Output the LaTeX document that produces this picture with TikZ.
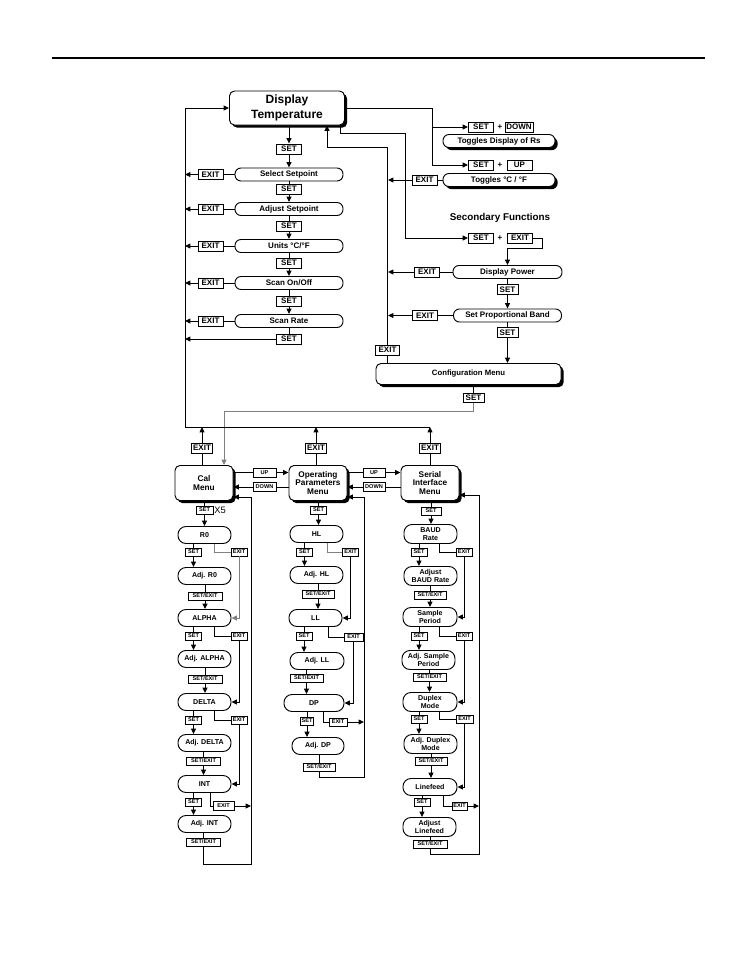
\documentclass[tikz,border=0pt]{standalone}
\usepackage{fontspec}
\setmainfont{Liberation Sans}
\usetikzlibrary{arrows.meta,shadows}
\newdimen\pxu \pxu=0.75pt

\begin{document}
\begin{tikzpicture}[x=0.75pt,y=-0.75pt,line width=0.7pt,
  >={Triangle[length=4pt,width=3.6pt]},
  key/.style={draw,fill=white,inner sep=0pt,minimum width=25\pxu,minimum height=10\pxu,font=\fontsize{6}{6}\selectfont\bfseries},
  tkey/.style={draw,fill=white,inner sep=0pt,minimum width=16\pxu,minimum height=8\pxu,font=\fontsize{4.2}{4.2}\selectfont\bfseries},
  stepbox/.style={draw,fill=white,rounded corners=6\pxu,minimum width=108\pxu,minimum height=13\pxu,inner sep=0pt,font=\fontsize{6}{6}\selectfont\bfseries},
  shadowbox/.style={draw,fill=white,rounded corners=5\pxu,drop shadow={shadow xshift=2pt,shadow yshift=-2pt,fill=black,opacity=1},inner sep=0pt,align=center},
  pill/.style={draw,fill=white,rounded corners=8\pxu,minimum width=53\pxu,minimum height=17\pxu,inner sep=0pt,align=center,font=\fontsize{5.3}{5.4}\selectfont\bfseries},
  menu/.style={shadowbox,minimum width=58\pxu,minimum height=35\pxu,font=\fontsize{6.2}{6.4}\selectfont\bfseries},
  plus/.style={inner sep=0pt,font=\fontsize{6}{6}\selectfont\bfseries}]
  \useasboundingbox (0,0) rectangle (756,972);
  \draw[line width=1pt] (52,58) -- (705,58);

  % main display
  \node[shadowbox,minimum width=115\pxu,minimum height=34\pxu,font=\fontsize{9}{11}\selectfont\bfseries] (dt) at (287,108) {Display\\Temperature};

  % primary functions
  \node[key] (s0) at (289,149) {SET};
  \node[stepbox] (sel) at (289,174.5) {Select Setpoint};
  \node[key] (s1) at (289,189) {SET};
  \node[stepbox] (adj) at (289,209) {Adjust Setpoint};
  \node[key] (s2) at (289,226) {SET};
  \node[stepbox] (uni) at (289,246) {Units °C/°F};
  \node[key] (s3) at (289,263) {SET};
  \node[stepbox] (scn) at (289,283) {Scan On/Off};
  \node[key] (s4) at (289,301) {SET};
  \node[stepbox] (rte) at (289,321) {Scan Rate};
  \node[key] (s5) at (289,339) {SET};
  \coordinate (busT) at (185,108);
  \coordinate (busB) at (185,427);
  \draw[->] (s0 |- dt.south) -- (s0.north);
  \draw[->] (s0) -- (sel);
  \draw (sel) -- (s1); \draw[->] (s1) -- (adj);
  \draw (adj) -- (s2); \draw[->] (s2) -- (uni);
  \draw (uni) -- (s3); \draw[->] (s3) -- (scn);
  \draw (scn) -- (s4); \draw[->] (s4) -- (rte);
  \draw (rte) -- (s5);
  \draw[->] (s5.west) -- (s5.west -| busB);
  \foreach \n/\b in {1/sel,2/adj,3/uni,4/scn,5/rte}{
    \node[key] (x\n) at (210.5,0 |- \b) {EXIT};
    \draw (\b.west) -- (x\n.east);
    \draw[->] (x\n.west) -- (x\n.west -| busB);
  }
  \draw[->] (busB) -- (busT) -- (dt.west);

  % toggles
  \coordinate (rv) at (432,108);
  \node[key] (s6) at (481,127) {SET};
  \node[plus] (p1) at (500,127) {+};
  \node[key,minimum width=28\pxu] (dn) at (519,127) {DOWN};
  \node[shadowbox,minimum width=112\pxu,minimum height=13\pxu,rounded corners=6\pxu,font=\fontsize{6}{6}\selectfont\bfseries] (tg1) at (499,141) {Toggles Display of Rs};
  \node[key] (s7) at (481,165) {SET};
  \node[plus] (p2) at (500,165) {+};
  \node[key] (up) at (519.5,165) {UP};
  \node[shadowbox,minimum width=112\pxu,minimum height=13\pxu,rounded corners=6\pxu,font=\fontsize{6}{6}\selectfont\bfseries] (tg2) at (499,180) {Toggles °C / °F};
  \draw[->] (dt.east) -| (rv |- s6) -- (s6.west);
  \draw[->] (rv |- s6) |- (s7.west);

  % secondary functions
  \node[font=\fontsize{7.4}{7.4}\selectfont\bfseries] (sf) at (500,218) {Secondary Functions};
  \coordinate (k1) at (340,133);
  \coordinate (k2) at (405,133);
  \node[key] (s8) at (481,238) {SET};
  \node[plus] (p3) at (500,238) {+};
  \node[key] (e8) at (520,238) {EXIT};
  \coordinate (t1) at (542,248);
  \draw[->] (k1 |- dt.south) -- (k1) -- (k2) |- (s8.west);
  \node[stepbox,minimum width=109\pxu] (dp) at (507.5,272) {Display Power};
  \draw[->] (e8.east) -| (t1) -| (dp.north);
  \node[key,minimum width=21\pxu] (s9) at (507.5,289.5) {SET};
  \node[stepbox] (spb) at (507.5,315.5) {Set Proportional Band};
  \node[key,minimum width=21\pxu] (s10) at (507.5,332.5) {SET};
  \node[shadowbox,minimum width=185\pxu,minimum height=21\pxu,font=\fontsize{5.8}{5.8}\selectfont\bfseries] (cfg) at (468.5,374) {Configuration Menu};
  \draw (dp) -- (s9); \draw[->] (s9) -- (spb);
  \draw (spb) -- (s10); \draw[->] (s10) -- (s10 |- cfg.north);

  % exits back to display
  \coordinate (lv) at (388,147);
  \coordinate (lh) at (327,147);
  \node[key] (x6) at (424.5,180) {EXIT};
  \node[key] (x7) at (427,272) {EXIT};
  \node[key] (x8) at (425,315.5) {EXIT};
  \node[key,minimum width=24\pxu] (x9) at (387.5,350) {EXIT};
  \draw (tg2.west) -- (x6.east);
  \draw (dp.west) -- (x7.east);
  \draw (spb.west) -- (x8.east);
  \foreach \n in {6,7,8}
    \draw[->] (x\n.west) -- (x\n.west -| lv);
  \draw (x9 |- cfg.north) -- (x9);
  \draw[->] (x9) -- (x9 |- lv) -- (lh) -- (lh |- dt.south);

  % configuration menu
  \node[key,minimum width=21\pxu,minimum height=9\pxu] (s11) at (473.5,398) {SET};
  \coordinate (g1) at (473.5,411);
  \coordinate (g2) at (224,411);
  \draw (s11 |- cfg.south) -- (s11);
  \node[menu] (cal) at (204,483) {Cal\\Menu};
  \node[menu] (op) at (318,483) {Operating\\Parameters\\Menu};
  \node[menu] (ser) at (430,483) {Serial\\Interface\\Menu};
  \draw[->,gray] (s11) -- (g1) -- (g2) -- (g2 |- cal.north);
  \node[key,minimum width=21\pxu] (xc) at (202,448) {EXIT};
  \node[key,minimum width=21\pxu] (xo) at (316,448) {EXIT};
  \node[key,minimum width=21\pxu] (xs) at (430,448) {EXIT};
  \foreach \m/\e in {cal/xc,op/xo,ser/xs}{
    \draw (\e |- \m.north) -- (\e);
    \draw[->] (\e) -- (\e |- busB);
  }
  \draw (busB) -- (xs |- busB);
  \node[tkey,minimum width=23\pxu,minimum height=9\pxu] (upa) at (264.5,472.5) {UP};
  \node[tkey,minimum width=23\pxu,minimum height=9\pxu] (dna) at (264.5,487) {DOWN};
  \node[tkey,minimum width=22\pxu,minimum height=9\pxu] (upb) at (374,472.5) {UP};
  \node[tkey,minimum width=22\pxu,minimum height=9\pxu] (dnb) at (374,487) {DOWN};
  \draw (cal.east |- upa) -- (upa); \draw[->] (upa) -- (op.west |- upa);
  \draw (op.west |- dna) -- (dna); \draw[->] (dna) -- (cal.east |- dna);
  \draw (op.east |- upb) -- (upb); \draw[->] (upb) -- (ser.west |- upb);
  \draw (ser.west |- dnb) -- (dnb); \draw[->] (dnb) -- (op.east |- dnb);

  % cal menu
  \node[tkey,minimum width=17\pxu] (sc) at (204.5,510) {SET};
  \node[anchor=west,inner sep=0pt,font=\fontsize{7}{7}\selectfont] (xfive) at (214,510) {X5};
  \node[pill] (r0) at (204.5,535) {R0};
  \node[pill] (ar0) at (204.5,576) {Adj. R0};
  \node[pill] (al) at (204.5,618) {ALPHA};
  \node[pill] (aal) at (204.5,659) {Adj. ALPHA};
  \node[pill] (de) at (204.5,702) {DELTA};
  \node[pill] (ade) at (204.5,743) {Adj. DELTA};
  \node[pill] (it) at (204.5,784) {INT};
  \node[pill] (ait) at (204.5,824) {Adj. INT};
  \node[tkey] (c1) at (193.5,552) {SET};
  \node[tkey] (c2) at (193.5,636) {SET};
  \node[tkey] (c3) at (193.5,720) {SET};
  \node[tkey] (c4) at (193.5,802) {SET};
  \node[tkey] (d1) at (239,552) {EXIT};
  \node[tkey] (d2) at (239,636) {EXIT};
  \node[tkey] (d3) at (239,720) {EXIT};
  \node[tkey,minimum width=21\pxu,minimum height=9\pxu] (d4) at (223.5,806) {EXIT};
  \node[tkey,minimum width=34\pxu] (f1) at (205,596) {SET/EXIT};
  \node[tkey,minimum width=34\pxu] (f2) at (205,679) {SET/EXIT};
  \node[tkey,minimum width=34\pxu] (f3) at (203.5,761) {SET/EXIT};
  \node[tkey,minimum width=34\pxu] (f4) at (203.5,842) {SET/EXIT};
  \coordinate (cr) at (251,864);
  \draw (sc |- cal.south) -- (sc); \draw[->] (sc) -- (r0);
  \foreach \a/\s/\b/\f/\n in {r0/c1/ar0/f1/al,al/c2/aal/f2/de,de/c3/ade/f3/it,it/c4/ait/f4/cr}{
    \draw (\s |- \a.south) -- (\s); \draw[->] (\s) -- (\s |- \b.north);
    \draw (\f |- \b.south) -- (\f);
  }
  \draw[->] (f1) -- (f1 |- al.north);
  \draw[->] (f2) -- (f2 |- de.north);
  \draw[->] (f3) -- (f3 |- it.north);
  \draw[gray] ([xshift=10\pxu]r0.south) |- (d1.west);
  \draw[->,gray] (d1.south) |- (al.east);
  \draw ([xshift=10\pxu]al.south) |- (d2.west);
  \draw[->] (d2.south) |- (de.east);
  \draw ([xshift=10\pxu]de.south) |- (d3.west);
  \draw[->] (d3.south) |- (it.east);
  \draw ([xshift=6\pxu]it.south) |- (d4.west);
  \draw[->] (d4.east) -- (d4.east -| cr);
  \draw[->] (f4.south) |- (cr) |- ([yshift=-14\pxu]cal.east);

  % operating parameters menu
  \node[tkey] (so) at (318.5,510) {SET};
  \node[pill] (hl) at (316.5,534) {HL};
  \node[pill] (ahl) at (316.5,575) {Adj. HL};
  \node[pill] (ll) at (315.5,618) {LL};
  \node[pill,minimum width=54\pxu] (all) at (317,661) {Adj. LL};
  \node[pill,minimum width=60\pxu] (dpn) at (314,703) {DP};
  \node[pill,minimum width=52\pxu] (adp) at (318,746) {Adj. DP};
  \node[tkey] (o1) at (304.5,552) {SET};
  \node[tkey] (o2) at (304,636) {SET};
  \node[tkey,minimum width=13\pxu] (o3) at (307,721) {SET};
  \node[tkey] (e1) at (350.5,552) {EXIT};
  \node[tkey,minimum width=19\pxu] (e2) at (353.5,637) {EXIT};
  \node[tkey,minimum width=18\pxu] (e3) at (338,722) {EXIT};
  \node[tkey,minimum width=32\pxu] (q1) at (318,594) {SET/EXIT};
  \node[tkey,minimum width=33\pxu] (q2) at (306.5,678) {SET/EXIT};
  \node[tkey,minimum width=32\pxu] (q3) at (319,767) {SET/EXIT};
  \coordinate (orr) at (364,777);
  \draw (so |- op.south) -- (so); \draw[->] (so) -- (so |- hl.north);
  \draw (o1 |- hl.south) -- (o1); \draw[->] (o1) -- (o1 |- ahl.north);
  \draw (q1 |- ahl.south) -- (q1); \draw[->] (q1) -- (q1 |- ll.north);
  \draw (o2 |- ll.south) -- (o2); \draw[->] (o2) -- (o2 |- all.north);
  \draw (q2 |- all.south) -- (q2); \draw[->] (q2) -- (q2 |- dpn.north);
  \draw (o3 |- dpn.south) -- (o3); \draw[->] (o3) -- (o3 |- adp.north);
  \draw (q3 |- adp.south) -- (q3);
  \draw[gray] ([xshift=10.5\pxu]hl.south) |- (e1.west);
  \draw[->] (e1.south) |- (ll.east);
  \draw ([xshift=12.5\pxu]ll.south) |- (e2.west);
  \draw[->] (e2.south) |- (dpn.east);
  \draw ([xshift=9\pxu]dpn.south) |- (e3.west);
  \draw[->] (e3.east) -- (e3.east -| orr);
  \draw[->] (q3.south) |- (orr) |- ([yshift=-14\pxu]op.east);

  % serial interface menu
  \node[tkey,minimum width=20\pxu] (ss) at (431,511) {SET};
  \node[pill,minimum height=19\pxu] (baud) at (430.5,534) {BAUD\\Rate};
  \node[pill,minimum height=19\pxu] (abaud) at (430.5,576) {Adjust\\BAUD Rate};
  \node[pill,minimum width=54\pxu,minimum height=19\pxu] (samp) at (430,617) {Sample\\Period};
  \node[pill,minimum height=19\pxu] (asamp) at (428.5,660) {Adj. Sample\\Period};
  \node[pill,minimum width=54\pxu,minimum height=19\pxu] (dup) at (430,702) {Duplex\\Mode};
  \node[pill,minimum height=19\pxu] (adup) at (430.5,744) {Adj. Duplex\\Mode};
  \node[pill,minimum width=54\pxu] (lf) at (430,787) {Linefeed};
  \node[pill,minimum height=19\pxu] (alf) at (429.5,827) {Adjust\\Linefeed};
  \node[tkey] (u1) at (419,552) {SET};
  \node[tkey] (u2) at (419,636) {SET};
  \node[tkey] (u3) at (419,719) {SET};
  \node[tkey] (u4) at (422,802) {SET};
  \node[tkey] (v1) at (464,552) {EXIT};
  \node[tkey] (v2) at (464,636) {EXIT};
  \node[tkey,minimum width=17\pxu] (v3) at (464.5,719) {EXIT};
  \node[tkey,minimum width=15\pxu] (v4) at (459.5,806) {EXIT};
  \node[tkey,minimum width=32\pxu] (w1) at (430,595) {SET/EXIT};
  \node[tkey,minimum width=33\pxu] (w2) at (429.5,677) {SET/EXIT};
  \node[tkey,minimum width=32\pxu] (w3) at (431,761) {SET/EXIT};
  \node[tkey,minimum width=34\pxu] (w4) at (430,844) {SET/EXIT};
  \coordinate (srr) at (479,854);
  \draw (ss |- ser.south) -- (ss); \draw[->] (ss) -- (ss |- baud.north);
  \foreach \a/\s/\b/\f/\n in {baud/u1/abaud/w1/samp,samp/u2/asamp/w2/dup,dup/u3/adup/w3/lf}{
    \draw (\s |- \a.south) -- (\s); \draw[->] (\s) -- (\s |- \b.north);
    \draw (\f |- \b.south) -- (\f); \draw[->] (\f) -- (\f |- \n.north);
  }
  \draw (u4 |- lf.south) -- (u4); \draw[->] (u4) -- (u4 |- alf.north);
  \draw (w4 |- alf.south) -- (w4);
  \draw ([xshift=8.5\pxu]baud.south) |- (v1.west);
  \draw[->] (v1.south) |- (samp.east);
  \draw ([xshift=9\pxu]samp.south) |- (v2.west);
  \draw[->] (v2.south) |- (dup.east);
  \draw ([xshift=9\pxu]dup.south) |- (v3.west);
  \draw[->] (v3.south) |- (lf.east);
  \draw ([xshift=13\pxu]lf.south) |- (v4.west);
  \draw[->] (v4.east) -- (v4.east -| srr);
  \draw[->] (w4.south) |- (srr) |- ([yshift=-12\pxu]ser.east);
\end{tikzpicture}
\end{document}
